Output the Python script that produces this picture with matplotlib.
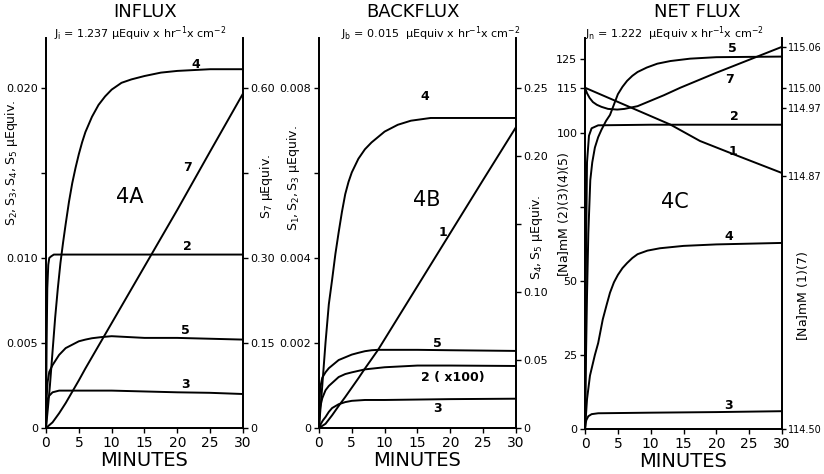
import matplotlib
matplotlib.use("Agg")
import matplotlib.pyplot as plt

plt.rcParams["font.family"] = ["DejaVu Sans"]
plt.rcParams["mathtext.default"] = "regular"

# ---- data (time in minutes) ----
# 4A  influx
a4_t = [0, 0.3, 0.6, 1.0, 1.4, 1.8, 2.2, 2.6, 3.0, 3.5, 4, 4.5, 5, 5.5, 6, 7, 8, 9,
        10, 11.5, 13, 15, 17.5, 20, 25, 30]
a4_y = [0, 0.0012, 0.0025, 0.0045, 0.0065, 0.0082, 0.0097, 0.0109, 0.0120, 0.0133,
        0.0144, 0.0153, 0.0161, 0.0168, 0.0174, 0.0183, 0.0190, 0.0195, 0.0199,
        0.0203, 0.0205, 0.0207, 0.0209, 0.0210, 0.0211, 0.0211]
a2_t = [0, 0.1, 0.2, 0.35, 0.5, 0.8, 1.2, 2, 10, 20, 30]
a2_y = [0, 0.0050, 0.0082, 0.0096, 0.0100, 0.0101, 0.0102, 0.0102, 0.0102, 0.0102, 0.0102]
a5_t = [0, 0.1, 0.25, 0.5, 1.0, 1.5, 2.0, 2.5, 3.0, 3.5, 4.0, 5.0, 6.0, 7.0, 8.5, 10,
        15, 20, 30]
a5_y = [0, 0.0018, 0.0027, 0.0033, 0.0037, 0.0040, 0.0043, 0.0045, 0.0047, 0.0048,
        0.0049, 0.0051, 0.0052, 0.00528, 0.00535, 0.0054, 0.0053, 0.0053, 0.0052]
a3_t = [0, 0.1, 0.25, 0.5, 1.0, 2.0, 5, 10, 15, 20, 25, 30]
a3_y = [0, 0.0012, 0.0017, 0.0019, 0.0021, 0.0022, 0.0022, 0.0022, 0.00215, 0.0021, 0.00207, 0.0020]
a7_t = [0, 1, 2, 3, 4, 5, 6, 8, 10, 16, 20, 25, 30]
a7_y = [0, 0.010, 0.026, 0.044, 0.064, 0.084, 0.105, 0.145, 0.185, 0.305, 0.385, 0.488, 0.590]

# 4B  backflux
b4_t = [0, 0.5, 1.0, 1.5, 2.0, 2.5, 3.0, 3.5, 4.0, 4.5, 5.0, 6.0, 7.0, 8.0, 9.0, 10,
        12, 14, 17, 20, 30]
b4_y = [0, 0.031, 0.063, 0.091, 0.109, 0.128, 0.144, 0.159, 0.172, 0.181, 0.188, 0.198,
        0.205, 0.210, 0.214, 0.218, 0.223, 0.226, 0.228, 0.228, 0.228]
b1_t = [0, 1, 2, 3, 4, 5, 6, 7, 8, 9, 12, 15, 20, 25, 30]
b1_y = [0, 0.0001, 0.0003, 0.00052, 0.00073, 0.00095, 0.00117, 0.0014, 0.00162,
        0.00184, 0.00259, 0.00334, 0.00459, 0.00584, 0.00708]
b5_t = [0, 0.1, 0.2, 0.5, 1, 1.5, 2, 3, 4, 5, 6, 7, 8, 9, 15, 20, 30]
b5_y = [0, 0.022, 0.030, 0.037, 0.041, 0.044, 0.046, 0.050, 0.052, 0.054, 0.0553,
        0.0565, 0.0572, 0.0575, 0.0575, 0.0572, 0.0567]
b2_t = [0, 0.1, 0.2, 0.5, 1, 1.5, 2, 3, 4, 5, 7, 10, 15, 20, 30]
b2_y = [0, 0.00035, 0.0005, 0.0007, 0.00089, 0.00099, 0.00106, 0.0012, 0.00127,
        0.00131, 0.00138, 0.00143, 0.00147, 0.00147, 0.00146]
b3_t = [0, 0.3, 0.6, 1, 1.5, 2, 3, 4, 5, 7, 10, 15, 20, 30]
b3_y = [0, 0.00010, 0.00018, 0.00026, 0.00038, 0.00047, 0.00056, 0.00061, 0.00064,
        0.00066, 0.00066, 0.00067, 0.00068, 0.00069]

# 4C  net flux  (left: curves 2,3,4,5 ; right: curves 1,7)
c5_t = [0, 0.15, 0.3, 0.5, 0.8, 1.1, 1.5, 2.0, 2.5, 3.2, 3.8, 4.4, 5.0, 5.7, 6.4, 7.2,
        8.0, 9.4, 11, 13, 16, 20, 30]
c5_y = [0, 25, 45, 66, 84, 90, 95, 98.5, 101, 104, 106, 109.5, 113, 115.5, 117.5,
        119.2, 120.5, 122, 123.3, 124.2, 125, 125.5, 125.7]
c2_t = [0, 0.08, 0.15, 0.3, 0.6, 1.0, 2.0, 10, 30]
c2_y = [0, 30, 60, 90, 99, 101.5, 102.5, 102.7, 102.7]
c4_t = [0, 0.3, 0.75, 1.5, 2.0, 2.7, 3.3, 3.8, 4.4, 5.0, 5.7, 6.4, 7.2, 8.0, 9.5,
        11.4, 15, 20, 30]
c4_y = [0, 10, 18, 25, 29, 37, 42, 46, 49.5, 52, 54.3, 56, 57.7, 59, 60.2, 61, 61.8,
        62.3, 62.8]
c3_t = [0, 0.1, 0.2, 0.5, 1, 2, 10, 20, 30]
c3_y = [0, 2.0, 3.0, 4.3, 5.0, 5.3, 5.5, 5.7, 6.0]
c1_t = [0, 13, 17.5, 22.5, 30]
c1_y = [115.000, 114.946, 114.922, 114.903, 114.875]
c7_t = [0, 0.3, 0.7, 1.2, 1.8, 2.5, 3.5, 4.9, 6, 7, 8, 10, 12, 14.5, 20, 25, 30]
c7_y = [115.000, 114.992, 114.985, 114.979, 114.975, 114.972, 114.969, 114.968,
        114.969, 114.971, 114.973, 114.981, 114.989, 115.000, 115.022, 115.041, 115.060]

minutes = [0, 5, 10, 15, 20, 25, 30]

LW = 1.4
TICK_FS = 8


def style(ax, twin):
    for a in (ax, twin):
        a.spines["top"].set_visible(False)
        for s in ("left", "right", "bottom"):
            a.spines[s].set_linewidth(1.3)
        a.tick_params(width=1.0, length=3.5, pad=2, labelsize=TICK_FS)
    ax.set_xlim(0, 30)
    ax.set_xticks(minutes)
    ax.set_xticklabels([str(m) for m in minutes], fontsize=10)
    ax.set_xlabel("MINUTES", fontsize=14, labelpad=1)


def label_curves(ax, items):
    for s, t, y in items:
        ax.text(t, y, s, ha="center", va="center", fontsize=9, fontweight="bold")


fig = plt.figure(figsize=(8.24, 4.74), dpi=100)

# ---------------- 4A ----------------
axA = fig.add_axes([0.0558, 0.097, 0.2391, 0.823])
axA2 = axA.twinx()
style(axA, axA2)
axA.set_ylim(0, 0.02294)
axA2.set_ylim(0, 0.02294 * 30)
axA.set_yticks([0, 0.005, 0.010, 0.015, 0.020])
axA.set_yticklabels(["0", "0.005", "0.010", "", "0.020"])
axA2.set_yticks([0, 0.15, 0.30, 0.45, 0.60])
axA2.set_yticklabels(["0", "0.15", "0.30", "", "0.60"])
for t, y in [(a4_t, a4_y), (a2_t, a2_y), (a5_t, a5_y), (a3_t, a3_y)]:
    axA.plot(t, y, color="black", lw=LW)
axA2.plot(a7_t, a7_y, color="black", lw=LW)
label_curves(axA, [("4", 22.8, 0.02135), ("7", 21.6, 0.0153), ("2", 21.6, 0.01065),
                   ("5", 21.3, 0.00576), ("3", 21.3, 0.00253)])
axA.text(12.8, 0.0136, "4A", ha="center", va="center", fontsize=15)
axA.set_ylabel(r"$S_2, S_3, S_4, S_5\ \mu Equiv.$", fontsize=9)
axA2.set_ylabel(r"$S_7\ \mu Equiv.$", fontsize=9, rotation=90)
axA.yaxis.set_label_coords(-0.13, 0.68)
axA2.yaxis.set_label_coords(1.075, 0.62)

# ---------------- 4B ----------------
axB = fig.add_axes([0.3871, 0.097, 0.2391, 0.823])
axB2 = axB.twinx()
style(axB, axB2)
axB.set_ylim(0, 0.00918)
axB2.set_ylim(0, 0.00918 * 31.25)
axB.set_yticks([0, 0.002, 0.004, 0.006, 0.008])
axB.set_yticklabels(["0", "0.002", "0.004", "", "0.008"])
axB2.set_yticks([0, 0.05, 0.10, 0.15, 0.20, 0.25])
axB2.set_yticklabels(["0", "0.05", "0.10", "", "0.20", "0.25"])
for t, y in [(b1_t, b1_y), (b2_t, b2_y), (b3_t, b3_y)]:
    axB.plot(t, y, color="black", lw=LW)
for t, y in [(b4_t, b4_y), (b5_t, b5_y)]:
    axB2.plot(t, y, color="black", lw=LW)
label_curves(axB, [("4", 16.1, 0.00779), ("1", 18.9, 0.00459), ("5", 18.0, 0.0020),
                   ("2 ( x100)", 20.4, 0.0012), ("3", 18.1, 0.00045)])
axB.text(16.4, 0.00536, "4B", ha="center", va="center", fontsize=15)
axB.set_ylabel(r"$S_1, S_2, S_3\ \mu Equiv.$", fontsize=9)
axB.yaxis.set_label_coords(-0.085, 0.64)
axB2.set_ylabel(r"$S_4, S_5\ \mu Equiv.$", fontsize=9, rotation=90)
axB2.yaxis.set_label_coords(1.06, 0.49)

# ---------------- 4C ----------------
axC = fig.add_axes([0.7100, 0.095, 0.2391, 0.825])
axC2 = axC.twinx()
style(axC, axC2)
axC2.tick_params(labelsize=7, pad=1.5, length=3)
axC.set_ylim(0, 132)
axC2.set_ylim(114.50, 115.073)
axC.set_yticks([0, 25, 50, 75, 100, 115, 125])
axC.set_yticklabels(["0", "25", "50", "", "100", "115", "125"])
axC2.set_yticks([114.50, 114.87, 114.97, 115.00, 115.06])
axC2.set_yticklabels(["114.50", "114.87", "114.97", "115.00", "115.06"])
for t, y in [(c5_t, c5_y), (c2_t, c2_y), (c4_t, c4_y), (c3_t, c3_y)]:
    axC.plot(t, y, color="black", lw=LW)
for t, y in [(c1_t, c1_y), (c7_t, c7_y)]:
    axC2.plot(t, y, color="black", lw=LW)
label_curves(axC, [("5", 22.5, 128.5), ("7", 22.0, 118), ("2", 22.8, 105.4),
                   ("1", 22.5, 93.6), ("4", 21.9, 64.9), ("3", 21.9, 7.8)])
axC.text(13.7, 76.7, "4C", ha="center", va="center", fontsize=15)
axC.set_ylabel(r"$[Na]mM\ (2)(3)(4)(5)$", fontsize=9)
axC.yaxis.set_label_coords(-0.07, 0.55)
axC2.set_ylabel(r"$[Na]mM\ (1)(7)$", fontsize=9, rotation=90)
axC2.yaxis.set_label_coords(1.065, 0.34)

# ---------------- titles ----------------
TITLE_Y, SUB_Y = 0.974, 0.929
fig.text(0.176, TITLE_Y, "INFLUX", ha="center", va="center", fontsize=13)
fig.text(0.170, SUB_Y, r"J$_i$ = 1.237 $\mu$Equiv x hr$^{-1}$x cm$^{-2}$",
         ha="center", va="center", fontsize=8)
fig.text(0.501, TITLE_Y, "BACKFLUX", ha="center", va="center", fontsize=13)
fig.text(0.523, SUB_Y, r"J$_b$ = 0.015  $\mu$Equiv x hr$^{-1}$x cm$^{-2}$",
         ha="center", va="center", fontsize=8)
fig.text(0.846, TITLE_Y, "NET FLUX", ha="center", va="center", fontsize=13)
fig.text(0.819, SUB_Y, r"J$_n$ = 1.222  $\mu$Equiv x hr$^{-1}$x cm$^{-2}$",
         ha="center", va="center", fontsize=8)

fig.savefig("out.png", dpi=100)
